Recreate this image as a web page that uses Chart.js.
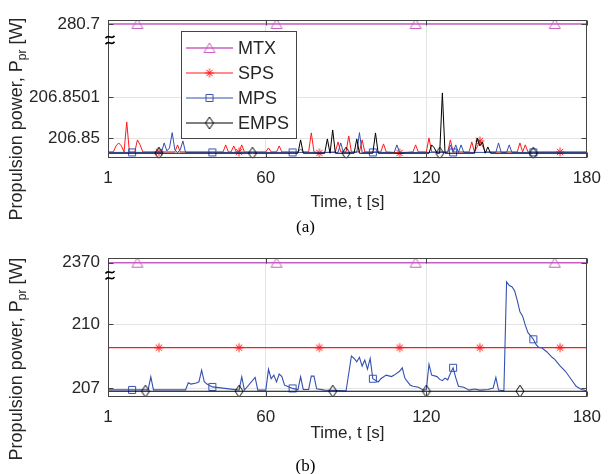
<!DOCTYPE html>
<html>
<head>
<meta charset="utf-8">
<script src="https://cdn.jsdelivr.net/npm/chart.js@4.4.1/dist/chart.umd.min.js"></script>
<style>
  body { margin: 0; background: #fff; }
  #page { position: relative; width: 611px; height: 474px; overflow: hidden; background: #fff; }
  canvas { position: absolute; left: 0; }
  #cA { top: 0; }
  #cB { top: 237px; }
  .ylab {
    position: absolute; left: -103px; width: 240px; height: 22px; line-height: 22px;
    text-align: center; transform: rotate(-90deg); white-space: nowrap;
    font: 18px "Liberation Sans", Arial, sans-serif; color: #262626;
  }
  .ylab sub { font-size: 12px; vertical-align: -4px; line-height: 0; }
  .cap {
    position: absolute; left: 0; width: 611px; height: 20px; line-height: 20px; text-align: center;
    font: 17px "Liberation Serif", "Times New Roman", serif; color: #000;
  }
</style>
</head>
<body>
<div id="page">
  <canvas id="cA" width="611" height="237"></canvas>
  <canvas id="cB" width="611" height="237"></canvas>
  <div class="ylab" style="top:108px">Propulsion power, P<sub>pr</sub> [W]</div>
  <div class="ylab" style="top:348px">Propulsion power, P<sub>pr</sub> [W]</div>
  <div class="cap" style="top:217px">(a)</div>
  <div class="cap" style="top:456px">(b)</div>
</div>
<script>
// time axis [s]
const xTicks = [1, 60, 120, 180];

// ---- (a) ----
const yTicksA = [206.85, 206.8501, 280.7];
const yLabelsA = ['206.85', '206.8501', '280.7'];
const breakA = { real: 280.7, shown: 206.8502788 };   // where 280.7 sits on the broken axis

const mtxTA = [1, 12, 64, 116, 168, 180];
const mtxPA = [280.7, 280.7, 280.7, 280.7, 280.7, 280.7];

const spsTA = [1, 3, 4, 5, 6, 7, 8, 9, 11, 12, 13, 14, 20, 26, 27, 28, 44, 45, 46, 47, 48, 49, 50, 51, 52,
  60, 61, 62, 64, 65, 66, 72, 73, 74, 76, 77, 78, 80, 86, 87, 88, 90, 91, 92, 95, 96, 97, 103, 104, 105,
  110, 115, 116, 117, 120, 121, 122, 128, 129, 130, 136, 137, 138, 139, 140, 141, 142, 154, 155, 156,
  157, 158, 170, 180];
const spsPA = [206.8499666, 206.8499666, 206.8499812, 206.8499885, 206.8499812, 206.8499666, 206.8500398,
  206.8499666, 206.8499666, 206.8499959, 206.8499837, 206.8499666, 206.8499666, 206.8499666, 206.8499837,
  206.8499666, 206.8499666, 206.8499837, 206.8499666, 206.8499666, 206.8499812, 206.8499666, 206.8499666,
  206.8499837, 206.8499666, 206.8499666, 206.8499763, 206.8499666, 206.8499666, 206.8499812, 206.8499666,
  206.8499666, 206.8499739, 206.8499666, 206.8499666, 206.8500129, 206.8499666, 206.8499641, 206.8499666,
  206.8499910, 206.8499666, 206.8499666, 206.8500056, 206.8499666, 206.8499666, 206.8499959, 206.8499666,
  206.8499666, 206.8499861, 206.8499666, 206.8499641, 206.8499666, 206.8499837, 206.8499666, 206.8499666,
  206.8500007, 206.8499666, 206.8499666, 206.8499959, 206.8499666, 206.8499666, 206.8499910, 206.8499666,
  206.8499788, 206.8499934, 206.8499812, 206.8499666, 206.8499666, 206.8499885, 206.8499666, 206.8499837,
  206.8499666, 206.8499666, 206.8499666];

const mpsTA = [1, 10, 21, 22, 23, 24, 25, 26, 27, 28, 29, 30, 40, 70, 87, 88, 89, 94, 95, 96, 100, 108, 109,
  110, 128, 129, 130, 131, 132, 133, 134, 146, 147, 148, 150, 151, 152, 160, 180];
const mpsPA = [206.8499654, 206.8499654, 206.8499654, 206.8499885, 206.8499690, 206.8499763, 206.8500137,
  206.8499715, 206.8499654, 206.8499715, 206.8499934, 206.8499654, 206.8499654, 206.8499654, 206.8499654,
  206.8499885, 206.8499654, 206.8499654, 206.8500137, 206.8499654, 206.8499654, 206.8499654, 206.8499837,
  206.8499654, 206.8499654, 206.8499837, 206.8499654, 206.8499837, 206.8499654, 206.8499837, 206.8499654,
  206.8499654, 206.8499885, 206.8499654, 206.8499654, 206.8499837, 206.8499654, 206.8499654, 206.8499654];

const empsTA = [1, 20, 55, 72, 73, 74, 82, 83, 84, 85, 86, 90, 93, 94, 95, 100, 101, 102, 121, 122, 123,
  124, 125, 126, 127, 138, 139, 140, 141, 142, 143, 144, 160, 180];
const empsPA = [206.8499634, 206.8499634, 206.8499634, 206.8499634, 206.8499959, 206.8499634, 206.8499634,
  206.8499983, 206.8499634, 206.8500202, 206.8499634, 206.8499634, 206.8499634, 206.8499983, 206.8499634,
  206.8499634, 206.8500129, 206.8499634, 206.8499634, 206.8499837, 206.8499763, 206.8499634, 206.8499634,
  206.8501105, 206.8499634, 206.8499634, 206.8500007, 206.8499812, 206.8499910, 206.8499634, 206.8499788,
  206.8499634, 206.8499634, 206.8499634];

const mtxMarkA = [12, 64, 116, 168];
const spsMarkA = [20, 50, 80, 110, 140, 170];
const mpsMarkA = [10, 40, 70, 100, 130, 160];
const empsMarkA = [20, 55, 90, 125, 160];

// ---- (b) ----
const yTicksB = [207, 210, 2370];
const yLabelsB = ['207', '210', '2370'];
const breakB = { real: 2370, shown: 212.86 };

const mtxTB = [1, 12, 64, 116, 168, 180];
const mtxPB = [2370, 2370, 2370, 2370, 2370, 2370];

const spsTB = [1, 20, 50, 80, 110, 140, 170, 180];
const spsPB = [208.9, 208.9, 208.9, 208.9, 208.9, 208.9, 208.9, 208.9];

const mpsTB = [1, 10, 16, 17, 18, 30, 31, 32, 34, 35, 36, 37, 38, 40, 50, 51, 52, 56, 57, 60, 61, 62, 63,
  64, 65, 66, 67, 68, 70, 72, 73, 74, 76, 77, 78, 79, 82, 90, 92, 93, 94, 95, 96, 97, 98, 99, 100, 102,
  103, 105, 107, 108, 110, 111, 112, 114, 115, 117, 119, 120, 121, 122, 124, 125, 126, 127, 128, 129, 130,
  131, 132, 134, 136, 138, 140, 143, 145, 146, 147, 149, 150, 151, 152, 153, 154, 155, 156, 157, 158, 159,
  160, 161, 162, 163, 165, 167, 168, 170, 172, 174, 176, 178, 180];
const mpsPB = [206.93, 206.93, 206.93, 207.54, 206.93, 206.93, 207.26, 207.2, 207.25, 207.31, 207.85, 207.31,
  207.2, 207.07, 206.92, 207.54, 206.92, 207.51, 206.92, 206.92, 207.89, 207.45, 207.62, 207.3, 207.67,
  207.55, 207.15, 207.1, 207.0, 206.93, 207.54, 206.95, 206.95, 207.57, 207.57, 206.98, 206.92, 206.89,
  208.51, 208.4, 208.24, 208.45, 208.04, 208.32, 207.9, 208.4, 207.45, 207.3, 207.45, 207.62, 207.55,
  207.62, 207.8, 207.96, 207.47, 207.15, 207.1, 207.05, 206.92, 206.95, 208.12, 207.62, 207.55, 207.42,
  207.36, 207.48, 207.4, 207.7, 207.96, 207.5, 207.1, 207.05, 206.92, 206.97, 206.92, 206.95, 207.02,
  207.51, 206.92, 206.89, 211.97, 211.8, 211.74, 211.55, 211.1, 210.57, 210.37, 209.95, 209.6, 209.45,
  209.29, 209.05, 208.91, 208.9, 208.71, 208.45, 208.35, 208.05, 207.8, 207.45, 207.1, 206.95, 206.89];

const empsTB = [1, 15, 50, 85, 120, 155, 180];
const empsPB = [206.87, 206.87, 206.87, 206.87, 206.87, 206.87, 206.87];

const mtxMarkB = [12, 64, 116, 168];
const spsMarkB = [20, 50, 80, 110, 140, 170];
const mpsMarkB = [10, 40, 70, 100, 130, 160];
const empsMarkB = [15, 50, 85, 120, 155];

// colours
const cMTX = '#c95fc2', cSPS = '#ff1a1a', cMPS = '#3450b0', cEMPS = '#000000';
const ink = '#262626';
const font17 = { family: 'Liberation Sans', size: 17 };

// little marker images, drawn like matlab's open markers
function marker(kind, color) {
  const c = document.createElement('canvas');
  c.width = 14; c.height = 14;
  const g = c.getContext('2d');
  g.strokeStyle = color;
  g.lineWidth = 1;
  g.beginPath();
  if (kind === 'tri') {
    g.moveTo(7, 2); g.lineTo(12.5, 11.5); g.lineTo(1.5, 11.5); g.closePath();
  } else if (kind === 'star') {
    for (let k = 0; k < 4; k++) {
      const a = k * Math.PI / 4;
      g.moveTo(7 - 4.5 * Math.cos(a), 7 - 4.5 * Math.sin(a));
      g.lineTo(7 + 4.5 * Math.cos(a), 7 + 4.5 * Math.sin(a));
    }
  } else if (kind === 'sq') {
    g.rect(3.5, 3.5, 7, 7);
  } else if (kind === 'dia') {
    g.moveTo(7, 1); g.lineTo(11, 7); g.lineTo(7, 13); g.lineTo(3, 7); g.closePath();
  }
  g.stroke();
  return c;
}
const mkTri = marker('tri', cMTX), mkStar = marker('star', cSPS), mkSq = marker('sq', cMPS), mkDia = marker('dia', cEMPS);

function series(label, ts, ps, marks, color, mk, lw, brk, order) {
  return {
    label: label,
    data: ts.map((t, i) => ({ x: t, y: ps[i] === brk.real ? brk.shown : ps[i] })),
    borderColor: color,
    backgroundColor: color,
    borderWidth: lw,
    pointStyle: mk,
    pointRadius: c => marks.includes(c.raw.x) ? 5 : 0,
    pointHoverRadius: 0,
    tension: 0,
    fill: false,
    order: order
  };
}

// box, inward ticks, axis break sign and (optionally) the legend
const framePlugin = {
  id: 'frame',
  afterDatasetsDraw(chart, args, opts) {
    const { ctx, chartArea: a, scales } = chart;
    ctx.save();
    const L = Math.round(a.left) + 0.5, R = Math.round(a.right) - 0.5;
    const T = Math.round(a.top) + 0.5, B = Math.round(a.bottom) - 0.5;
    ctx.strokeStyle = '#444';
    ctx.lineWidth = 1;
    ctx.strokeRect(L, T, R - L, B - T);
    ctx.beginPath();
    scales.y.ticks.forEach(tk => {
      const y = Math.round(scales.y.getPixelForValue(tk.value)) + 0.5;
      ctx.moveTo(L, y); ctx.lineTo(L + 5, y);
      ctx.moveTo(R, y); ctx.lineTo(R - 5, y);
    });
    scales.x.ticks.forEach(tk => {
      const x = Math.round(scales.x.getPixelForValue(tk.value)) + 0.5;
      ctx.moveTo(x, T); ctx.lineTo(x, T + 5);
      ctx.moveTo(x, B); ctx.lineTo(x, B - 5);
    });
    ctx.stroke();

    // "≈" break sign on the y axis
    const bx = a.left + 2, by = a.top + opts.breakDy;
    ctx.strokeStyle = '#000';
    ctx.lineWidth = 1.6;
    [-3, 3].forEach(d => {
      ctx.beginPath();
      ctx.moveTo(bx - 4.5, by + d + 1.2);
      ctx.bezierCurveTo(bx - 1.5, by + d - 3.5, bx + 1.5, by + d + 3.5, bx + 4.5, by + d - 1.2);
      ctx.stroke();
    });

    if (opts.legend) {
      const lg = opts.legend;
      ctx.fillStyle = '#fff';
      ctx.fillRect(lg.x, lg.y, lg.w, lg.h);
      ctx.strokeStyle = '#444';
      ctx.lineWidth = 1;
      ctx.strokeRect(lg.x + 0.5, lg.y + 0.5, lg.w, lg.h);
      ctx.font = '18px "Liberation Sans"';
      ctx.textAlign = 'left';
      ctx.textBaseline = 'middle';
      chart.data.datasets.forEach((ds, i) => {
        const y = lg.y + lg.row0 + i * lg.step;
        ctx.strokeStyle = ds.borderColor;
        ctx.lineWidth = ds.borderWidth;
        ctx.beginPath();
        ctx.moveTo(lg.x + 5, y); ctx.lineTo(lg.x + 52, y);
        ctx.stroke();
        ctx.drawImage(ds.pointStyle, lg.x + 28.5 - 7, y - 7);
        ctx.fillStyle = ink;
        ctx.fillText(ds.label, lg.x + 57, y + 1);
      });
    }
    ctx.restore();
  }
};

function makeChart(id, cfg) {
  return new Chart(document.getElementById(id), {
    type: 'line',
    data: { datasets: cfg.datasets },
    options: {
      responsive: false,
      animation: false,
      devicePixelRatio: 1,
      events: [],
      layout: { padding: { left: 0, right: 16, top: cfg.top, bottom: 0 } },
      scales: {
        x: {
          type: 'linear', min: 1, max: 180,
          afterBuildTicks: s => { s.ticks = xTicks.map(v => ({ value: v })); },
          afterFit: s => { s.height = cfg.xHeight; },
          ticks: { font: font17, color: ink, padding: 10, maxRotation: 0, autoSkip: false,
            callback: v => String(v) },
          grid: { color: '#e4e4e4', drawTicks: false },
          border: { display: false },
          title: { display: true, text: 'Time, t [s]', font: font17, color: ink,
            padding: { top: 0, bottom: cfg.titlePad } }
        },
        y: {
          type: 'linear', min: cfg.ymin, max: cfg.ymax,
          afterBuildTicks: s => { s.ticks = cfg.yTicks.map(v => ({ value: v === cfg.brk.real ? cfg.brk.shown : v })); },
          afterFit: s => { s.width = 108; },
          ticks: { font: font17, color: ink, padding: 8, callback: (v, i) => cfg.yLabels[i] },
          grid: { color: '#e4e4e4', drawTicks: false },
          border: { display: false }
        }
      },
      plugins: {
        legend: { display: false },
        tooltip: { enabled: false },
        frame: { breakDy: cfg.breakDy, legend: cfg.legend }
      }
    },
    plugins: [framePlugin]
  });
}

makeChart('cA', {
  top: 20, xHeight: 237 - 158.3, titlePad: 24,
  ymin: 206.849951, ymax: 206.8502885,
  yTicks: yTicksA, yLabels: yLabelsA, brk: breakA, breakDy: 20,
  legend: { x: 181, y: 31, w: 115, h: 107, row0: 17, step: 25 },
  datasets: [
    series('MTX', mtxTA, mtxPA, mtxMarkA, cMTX, mkTri, 1.6, breakA, 4),
    series('SPS', spsTA, spsPA, spsMarkA, cSPS, mkStar, 1, breakA, 3),
    series('MPS', mpsTA, mpsPA, mpsMarkA, cMPS, mkSq, 1, breakA, 2),
    series('EMPS', empsTA, empsPA, empsMarkA, cEMPS, mkDia, 1, breakA, 1)
  ]
});

makeChart('cB', {
  top: 21.3, xHeight: 237 - 159.7, titlePad: 30,
  ymin: 206.613, ymax: 213.066,
  yTicks: yTicksB, yLabels: yLabelsB, brk: breakB, breakDy: 17,
  legend: null,
  datasets: [
    series('MTX', mtxTB, mtxPB, mtxMarkB, cMTX, mkTri, 1.6, breakB, 4),
    series('SPS', spsTB, spsPB, spsMarkB, cSPS, mkStar, 1.2, breakB, 3),
    series('MPS', mpsTB, mpsPB, mpsMarkB, cMPS, mkSq, 1.1, breakB, 2),
    series('EMPS', empsTB, empsPB, empsMarkB, cEMPS, mkDia, 1.1, breakB, 1)
  ]
});
</script>
</body>
</html>
